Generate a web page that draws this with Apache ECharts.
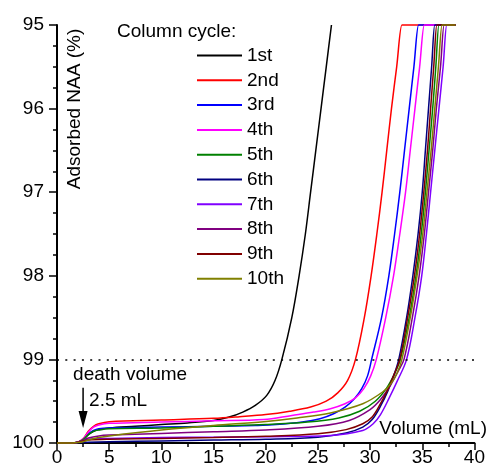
<!DOCTYPE html>
<html>
<head>
<meta charset="utf-8">
<script src="https://cdn.jsdelivr.net/npm/echarts@6/dist/echarts.min.js"></script>
<style>
html,body{margin:0;padding:0;background:#fff;}
#chart{width:488px;height:472px;}
</style>
</head>
<body>
<div id="chart"></div>
<script>
// ---- data ----
const cycleNames = ['1st','2nd','3rd','4th','5th','6th','7th','8th','9th','10th'];
const cycleColors = ['#000000','#ff0000','#0000ff','#ff00ff','#008000','#000080','#8000ff','#800080','#800000','#808000'];
const xTicks = [0,5,10,15,20,25,30,35,40];
const yTicks = [95,96,97,98,99,100];
const thresholdLine = 99;
const deathVolume = 2.5;

// [volume (mL), adsorbed NAA (%)]
const cycle1 = [[0,100],[1.5,100],[2,99.99],[2.5,99.96],[3,99.9],[3.5,99.86],[4,99.84],[5,99.82],[7.5,99.8],[10,99.78],[12.5,99.76],[15,99.73],[16.5,99.69],[17.8,99.63],[19.0,99.55],[20.1,99.43],[20.9,99.25],[21.55,99.0],[22.5,98.5],[23.2,98.0],[23.8,97.5],[24.3,97.0],[24.8,96.5],[25.3,96.0],[25.8,95.5],[26.3,95.0]];
const cycle2 = [[0,100],[1.5,100],[2,99.99],[2.5,99.95],[3,99.86],[3.5,99.8],[4,99.77],[5,99.745],[10,99.725],[15,99.705],[17.5,99.685],[20,99.66],[22.3,99.62],[24.3,99.57],[25.8,99.5],[26.9,99.4],[27.85,99.25],[28.6,99.0],[29.45,98.5],[30.1,98.0],[30.65,97.5],[31.15,97.0],[31.6,96.5],[32.05,96.0],[32.55,95.5],[33.05,95.0],[33.1,95.0],[38.2,95.0]];
const cycle3 = [[0,100],[1.5,100],[2,99.99],[2.5,99.96],[3,99.89],[3.5,99.85],[4,99.83],[5,99.82],[10,99.81],[15,99.8],[19,99.79],[21,99.78],[23.5,99.75],[25.2,99.71],[26.5,99.65],[27.6,99.57],[28.5,99.47],[29.2,99.35],[29.75,99.2],[30.15,99.0],[31.1,98.5],[31.8,98.0],[32.35,97.5],[32.85,97.0],[33.3,96.5],[33.75,96.0],[34.2,95.5],[34.65,95.0],[34.7,95.0],[38.2,95.0]];
const cycle4 = [[0,100],[1.5,100],[2,99.99],[2.5,99.95],[3,99.87],[3.5,99.81],[4,99.785],[5,99.765],[10,99.75],[15,99.735],[19.8,99.72],[22.5,99.67],[24.6,99.63],[26.2,99.59],[27.6,99.53],[28.6,99.46],[29.4,99.35],[30.05,99.2],[30.6,99.0],[31.5,98.5],[32.25,98.0],[32.85,97.5],[33.4,97.0],[33.85,96.5],[34.3,96.0],[34.75,95.5],[35.2,95.0],[35.25,95.0],[38.2,95.0]];
const cycle5 = [[0,100],[1.5,100],[2,99.99],[2.5,99.96],[3,99.9],[3.5,99.86],[4,99.845],[5,99.83],[10,99.82],[15,99.8],[20,99.78],[24,99.75],[27,99.7],[29,99.62],[30.5,99.5],[31.6,99.34],[32.35,99.17],[32.9,99.0],[33.75,98.5],[34.4,98.0],[34.9,97.5],[35.3,97.0],[35.65,96.5],[36.0,96.0],[36.3,95.5],[36.6,95.0],[36.65,95.0],[38.2,95.0]];
const cycle6 = [[0,100],[1.5,100],[2,99.995],[3,99.99],[5,99.985],[10,99.975],[15,99.965],[20,99.955],[25,99.93],[27.7,99.88],[29.3,99.81],[30.2,99.72],[31.0,99.56],[31.7,99.38],[32.25,99.2],[32.75,99.0],[33.5,98.5],[34.1,98.0],[34.6,97.5],[35.0,97.0],[35.3,96.5],[35.6,96.0],[35.9,95.5],[36.2,95.0],[36.25,95.0],[38.2,95.0]];
const cycle7 = [[0,100],[1.5,100],[2,99.99],[2.5,99.975],[3,99.955],[5,99.945],[10,99.935],[15,99.93],[20,99.925],[26.2,99.91],[29.3,99.85],[30.3,99.77],[31.0,99.66],[31.8,99.47],[32.6,99.26],[33.5,99.0],[34.3,98.5],[34.95,98.0],[35.4,97.5],[35.8,97.0],[36.2,96.5],[36.6,96.0],[37.0,95.5],[37.35,95.0],[37.4,95.0],[38.2,95.0]];
const cycle8 = [[0,100],[1.5,100],[2,99.99],[2.5,99.97],[3,99.94],[4,99.915],[5,99.905],[10,99.885],[15,99.865],[20,99.845],[25,99.8],[28,99.73],[30,99.6],[31,99.48],[32,99.3],[32.7,99.14],[33.25,99.0],[34.05,98.5],[34.7,98.0],[35.2,97.5],[35.6,97.0],[36.0,96.5],[36.35,96.0],[36.75,95.5],[37.1,95.0],[37.15,95.0],[38.2,95.0]];
const cycle9 = [[0,100],[1.5,100],[2,99.99],[2.5,99.98],[3,99.965],[5,99.955],[10,99.945],[15,99.935],[20,99.92],[25,99.89],[27.7,99.84],[29.3,99.77],[30.2,99.69],[31.0,99.53],[31.7,99.36],[32.3,99.18],[32.85,99.0],[33.6,98.5],[34.25,98.0],[34.75,97.5],[35.15,97.0],[35.5,96.5],[35.8,96.0],[36.1,95.5],[36.4,95.0],[36.45,95.0],[38.2,95.0]];
const cycle10 = [[0,100],[1.5,100],[2,99.995],[2.5,99.985],[3,99.965],[4,99.935],[5,99.915],[10,99.845],[15,99.79],[19.8,99.745],[23,99.70],[26.2,99.64],[29.3,99.53],[31.2,99.39],[32.0,99.29],[32.6,99.16],[33.05,99.0],[33.85,98.5],[34.5,98.0],[35.05,97.5],[35.45,97.0],[35.85,96.5],[36.2,96.0],[36.55,95.5],[36.9,95.0],[36.95,95.0],[38.2,95.0]];
const cycles = [cycle1,cycle2,cycle3,cycle4,cycle5,cycle6,cycle7,cycle8,cycle9,cycle10];

// ---- chart ----
const FONT = '"Liberation Sans", Arial, sans-serif';
const chart = echarts.init(document.getElementById('chart'), null, {renderer:'canvas'});

const series = cycles.map((d,i) => ({
  name: cycleNames[i],
  type: 'line',
  data: d,
  symbol: 'none',
  smooth: 0.35,
  clip: false,
  color: cycleColors[i],
  lineStyle: {width: 1.5, color: cycleColors[i]},
  z: 3
}));

series.push({
  name: 'threshold',
  type: 'line',
  data: [],
  symbol: 'none',
  markLine: {
    silent: true,
    symbol: ['none','none'],
    label: {show: false},
    lineStyle: {type: [2,6.3], width: 1.6, color: '#000'},
    data: [{yAxis: thresholdLine}]
  }
});

chart.setOption({
  animation: false,
  backgroundColor: '#fff',
  textStyle: {fontFamily: FONT},
  grid: {left: 57, right: 11, top: 25, bottom: 29, containLabel: false},
  legend: {
    data: cycleNames.map(n => ({name: n, icon: 'rect'})),
    orient: 'vertical',
    left: 192,
    top: 40.5,
    itemWidth: 45,
    itemHeight: 2,
    itemGap: 4.8,
    itemStyle: {borderWidth: 0},
    textStyle: {fontSize: 19, color: '#000', fontFamily: FONT, lineHeight: 20},
    selectedMode: false
  },
  xAxis: {
    type: 'value',
    min: 0, max: 40, interval: 5,
    axisLine: {show: true, onZero: false, lineStyle: {color: '#000', width: 2}},
    axisTick: {show: true, inside: false, length: 7, lineStyle: {color: '#000', width: 1.5}},
    minorTick: {show: true, splitNumber: 2, length: 4, lineStyle: {color: '#000', width: 1.5}},
    splitLine: {show: false},
    axisLabel: {fontSize: 19, color: '#000', margin: 5, fontFamily: FONT}
  },
  yAxis: {
    type: 'value',
    inverse: true,
    min: 95, max: 100, interval: 1,
    axisLine: {show: true, onZero: false, lineStyle: {color: '#000', width: 2}},
    axisTick: {show: true, inside: false, length: 8, lineStyle: {color: '#000', width: 1.5}},
    minorTick: {show: true, splitNumber: 4, length: 4, lineStyle: {color: '#000', width: 1.5}},
    splitLine: {show: false},
    axisLabel: {fontSize: 19, color: '#000', margin: 13, fontFamily: FONT}
  },
  series: series
});

// annotations anchored to data coordinates
const pTop = chart.convertToPixel({gridIndex:0}, [deathVolume, 99.34]);
const pTip = chart.convertToPixel({gridIndex:0}, [deathVolume, 99.82]);
chart.setOption({
  graphic: [
    {type:'text', left: 117, top: 22, style:{text:'Column cycle:', fontSize:19, fill:'#000', fontFamily: FONT}},
    {type:'text', x: 75, y: 109, rotation: Math.PI/2,
     style:{text:'Adsorbed NAA (%)', fontSize:19, fill:'#000', fontFamily: FONT, align:'center', verticalAlign:'middle'}},
    {type:'text', right: 1, top: 419, style:{text:'Volume (mL)', fontSize:19, fill:'#000', fontFamily: FONT}},
    {type:'text', x: pTop[0]-10, y: pTop[1]-13, style:{text:'death volume', fontSize:19, fill:'#000', fontFamily: FONT, align:'left', verticalAlign:'middle'}},
    {type:'text', x: pTop[0]+6, y: pTop[1]+13, style:{text:'2.5 mL', fontSize:19, fill:'#000', fontFamily: FONT, align:'left', verticalAlign:'middle'}},
    {type:'line', shape:{x1:pTop[0], y1:pTop[1], x2:pTip[0], y2:pTip[1]-14}, style:{stroke:'#000', lineWidth:1.5}},
    {type:'polygon', shape:{points:[[pTip[0]-4.5, pTip[1]-17],[pTip[0]+4.5, pTip[1]-17],[pTip[0], pTip[1]]]}, style:{fill:'#000'}}
  ]
});
</script>
</body>
</html>
